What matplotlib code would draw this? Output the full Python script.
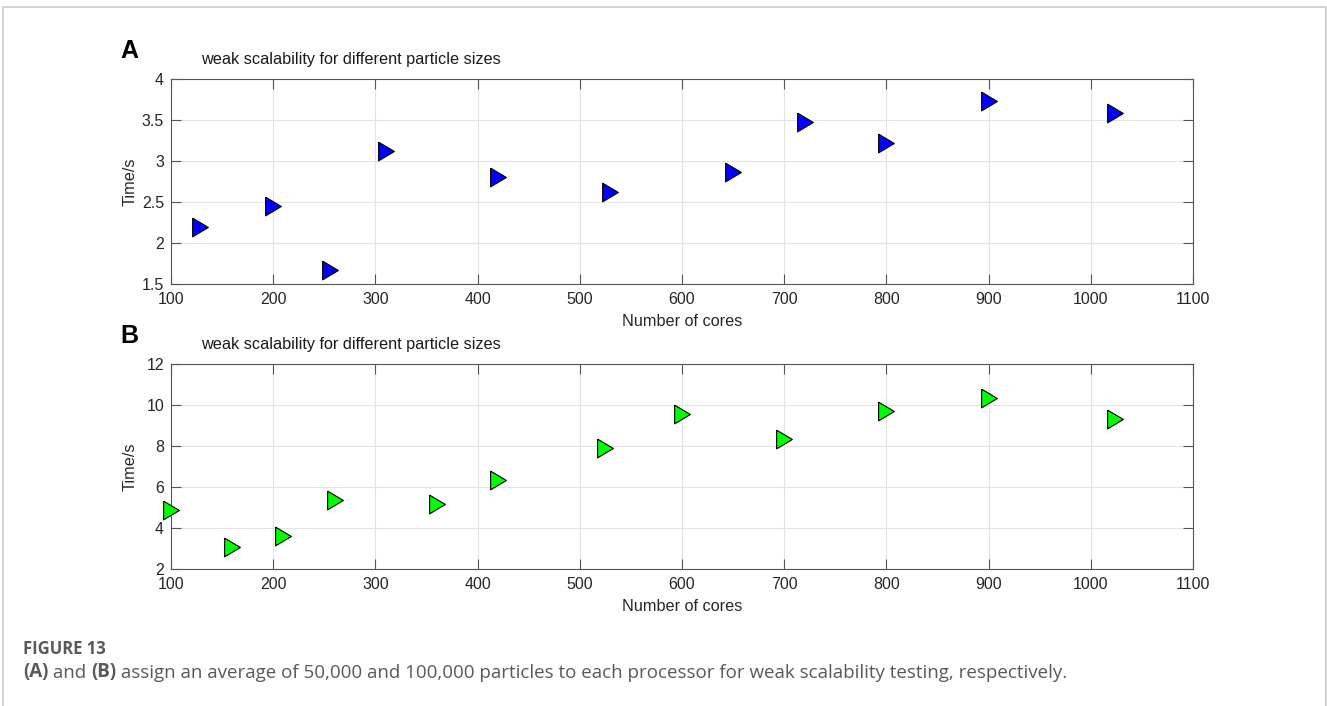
import matplotlib; matplotlib.use("Agg")
import matplotlib.pyplot as plt
from matplotlib.lines import Line2D

# panel A: 50,000 particles per processor
cores_a = [128, 200, 256, 310, 420, 530, 650, 720, 800, 900, 1024]
time_a = [2.19, 2.45, 1.67, 3.12, 2.81, 2.62, 2.86, 3.47, 3.22, 3.73, 3.59]
# panel B: 100,000 particles per processor
cores_b = [100, 160, 210, 260, 360, 420, 525, 600, 700, 800, 900, 1024]
time_b = [4.89, 3.09, 3.61, 5.38, 5.18, 6.35, 7.91, 9.57, 8.35, 9.73, 10.33, 9.32]

title = "weak scalability for different particle sizes"
FONT = "Liberation Sans"
AXC = "#555555"
tri = [(-0.84, 1), (0.84, 0), (-0.84, -1), (-0.84, 1)]  # MATLAB-ish right triangle

fig = plt.figure(figsize=(13.27, 7.06), dpi=100)
W, H = 1327, 706

def panel(top_px, xs, ys, color, ylim, yticks, letter):
    ax = fig.add_axes([171 / W, 1 - (top_px + 205) / H, 1022 / W, 205 / H])
    ax.plot(xs, ys, linestyle="none", marker=tri, markersize=13.5, clip_on=False,
            markerfacecolor=color, markeredgecolor="black", markeredgewidth=0.8, zorder=3)
    ax.set_xlim(100, 1100); ax.set_ylim(*ylim)
    ax.set_xticks(range(100, 1101, 100)); ax.set_yticks(yticks)
    ax.set_yticklabels([f"{t:g}" for t in yticks])
    ax.grid(True, color="#e3e3e3", linewidth=0.8, zorder=0)
    ax.tick_params(direction="in", length=7, width=0.8, color=AXC, top=True, right=True,
                   labelsize=11.5, labelcolor="#262626")
    ax.tick_params(axis="x", pad=6); ax.tick_params(axis="y", pad=5)
    for lab in ax.get_xticklabels() + ax.get_yticklabels():
        lab.set_family(FONT)
    for s in ax.spines.values():
        s.set_color(AXC); s.set_linewidth(0.8)
    ax.set_xlabel("Number of cores", family=FONT, fontsize=11.7, color="#262626")
    ax.set_ylabel("Time/s", family=FONT, fontsize=11.7, color="#262626")
    ax.xaxis.set_label_coords(0.5, -30 / 205)
    ax.yaxis.set_label_coords(-33 / 1022, 0.5)
    ax.text(30 / 1022, 1.06, title, transform=ax.transAxes, family=FONT, fontsize=11.7,
            color="#1a1a1a", va="bottom", ha="left")
    fig.text(120 / W, 1 - (top_px - 28) / H, letter, family=FONT, fontsize=18,
             fontweight="bold", va="center", ha="left")
    return ax

panel(79, cores_a, time_a, "#0000ff", (1.5, 4), [1.5, 2, 2.5, 3, 3.5, 4], "A")
panel(364, cores_b, time_b, "#00ff00", (2, 12), [2, 4, 6, 8, 10, 12], "B")

# outer frame (left, top, right)
fc = "#cccccc"
fig.add_artist(Line2D([3.5 / W, 3.5 / W, 1325.5 / W, 1325.5 / W],
                      [0, 1 - 6.5 / H, 1 - 6.5 / H, 0], color=fc, linewidth=1.2))

# caption
CAP = "Open Sans"; cc = "#595959"
fig.text(23 / W, 1 - 649 / H, "FIGURE 13", family=CAP, fontsize=12, fontweight="bold",
         color=cc, va="center")
parts = [("(A)", "bold"), (" and ", "normal"), ("(B)", "bold"),
         (" assign an average of 50,000 and 100,000 particles to each processor for weak scalability testing, respectively.", "normal")]
prev = fig.text(23 / W, 1 - 672 / H, parts[0][0], family=CAP, fontsize=13.5,
                fontweight=parts[0][1], color=cc, va="center")
for txt, wt in parts[1:]:
    prev = plt.annotate(txt, xy=(1, 0), xycoords=prev, va="bottom", ha="left", family=CAP,
                        fontsize=13.5, fontweight=wt, color=cc, annotation_clip=False)

fig.savefig("out.png", dpi=100)
